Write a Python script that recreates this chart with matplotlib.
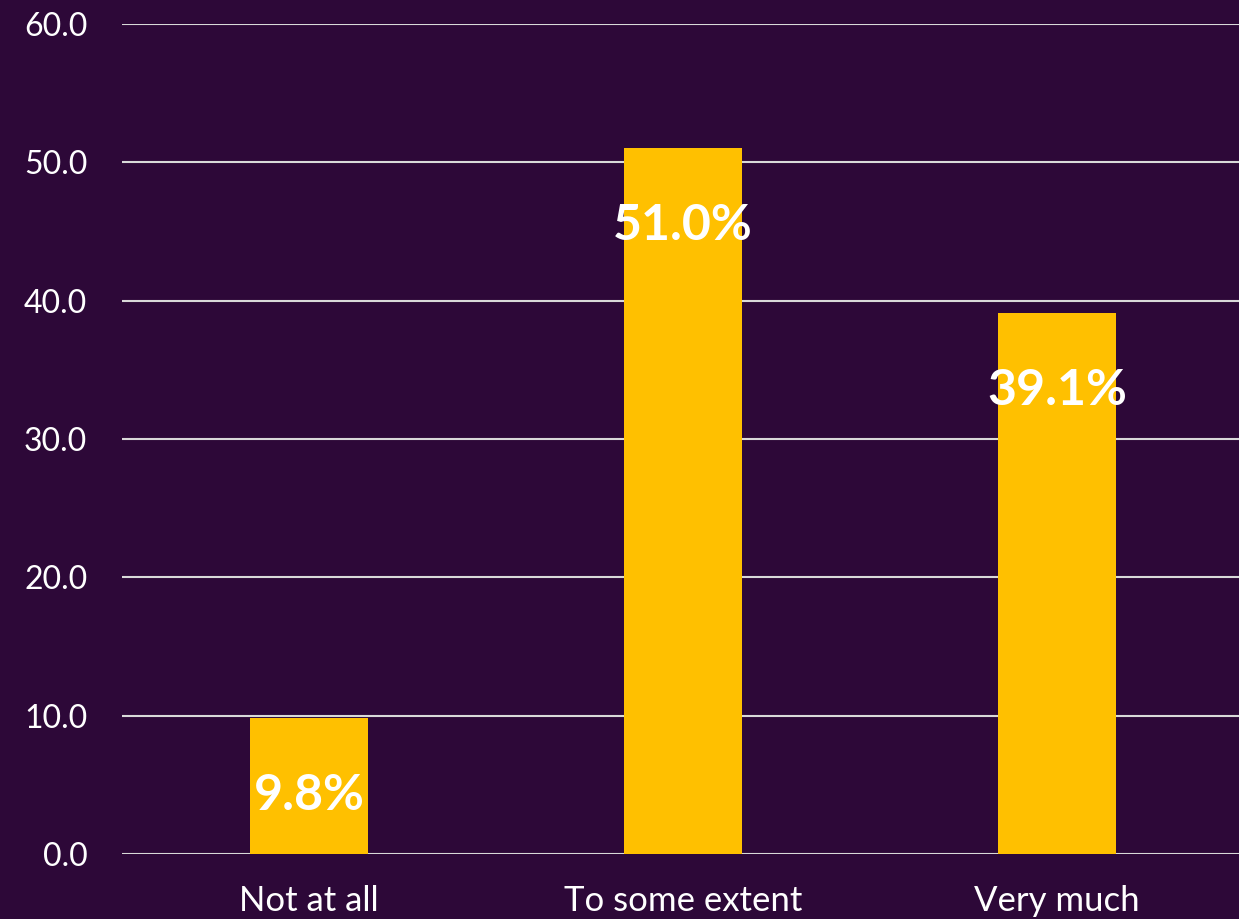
import numpy as np
import matplotlib
matplotlib.use('Agg')
import matplotlib.pyplot as plt

categories = ['Not at all', 'To some extent', 'Very much']
values = [9.8, 51.0, 39.1]
yticks = [0, 10, 20, 30, 40, 50, 60]

bg = '#2D0838'
barcolor = '#FFC000'

plt.rcParams['font.family'] = ['Lato', 'DejaVu Sans']

fig = plt.figure(figsize=(12.39, 9.19), dpi=100)
fig.patch.set_facecolor(bg)
ax = fig.add_axes([0.0985, 0.0707, 0.9056, 0.9032])
ax.set_facecolor(bg)

x = np.arange(len(categories))
ax.bar(x, values, width=0.315, color=barcolor, zorder=3)

# labels sit inside the top of each bar
for xi, v in zip(x, values):
    ax.text(xi, v - 5.6, '%.1f%%' % v, ha='center', va='center',
            color='white', fontsize=36, fontweight='bold', zorder=4)

ax.set_xlim(-0.5, 2.5)
ax.set_ylim(0, 60)
ax.set_yticks(yticks)
ax.set_yticklabels(['%.1f' % t for t in yticks])
ax.set_xticks(x)
ax.set_xticklabels(categories)
ax.tick_params(axis='y', colors='white', labelsize=23, length=0, pad=25)
ax.tick_params(axis='x', colors='white', labelsize=25, length=0, pad=22)
ax.grid(axis='y', color='#D9D9D9', linewidth=1.5, zorder=1)
for s in ax.spines.values():
    s.set_visible(False)

fig.savefig('out.png', dpi=100, facecolor=bg)
